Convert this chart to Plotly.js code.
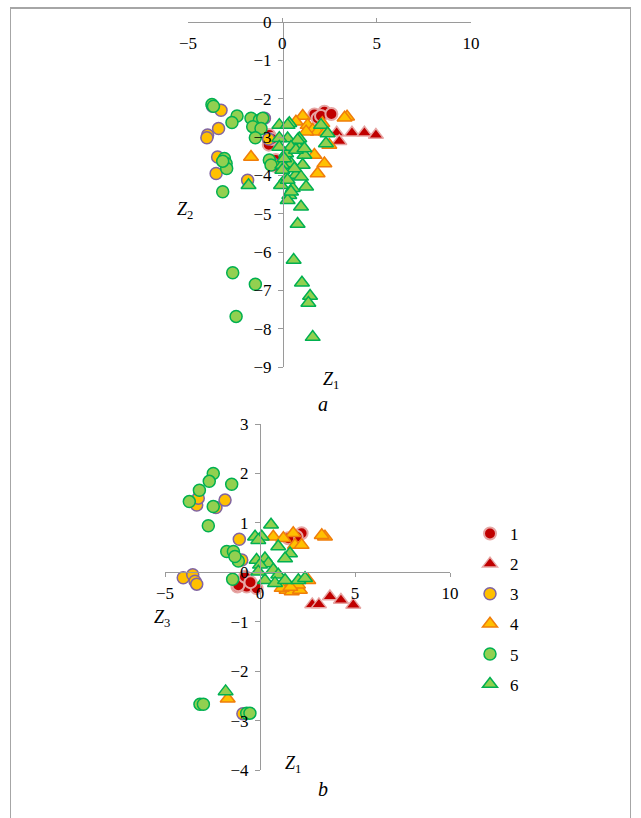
<!DOCTYPE html>
<html>
<head>
<meta charset="utf-8">
<script src="https://cdn.plot.ly/plotly-3.0.1.min.js"></script>
<style>
  html, body { margin: 0; padding: 0; background: #fff; }
  #wrap { position: relative; width: 641px; height: 818px; overflow: hidden; }
  #chart { width: 641px; height: 818px; }
  #frame { position: absolute; left: 10px; top: 7px; width: 619px; height: 830px;
           border-top: 2px solid #A6A6A6; border-left: 1px solid #A6A6A6; border-right: 1px solid #A6A6A6;
           pointer-events: none; }
</style>
</head>
<body>
<div id="wrap"><div id="chart"></div><div id="frame"></div></div>
<script>
// ---------- Panel a: Z1 vs Z2 ----------
const a1_z1 = [1.7, 2.23, 1.87, 2.05, 2.6, -0.69, -0.72, -0.55, -0.4, -0.35];
const a1_z2 = [-2.41, -2.34, -2.51, -2.45, -2.4, -2.95, -3.2, -3.05, -3.75, -3.6];

const a2_z1 = [2.88, 3.02, 3.69, 4.35, 4.96];
const a2_z2 = [-2.89, -3.11, -2.89, -2.89, -2.95];

const a3_z1 = [-3.25, -3.7, -3.38, -3.96, -4.0, -0.95, -0.73, -3.43, -3.51, -1.84, -0.5];
const a3_z2 = [-2.3, -2.2, -2.78, -2.95, -3.02, -2.51, -3.05, -3.52, -3.95, -4.13, -3.7];

const a4_z1 = [3.43, 3.3, 1.08, 0.72, 1.34, 1.61, 1.87, 2.31, 2.49, 1.7, 2.23, 1.87, 1.26, 2.12, -1.66];
const a4_z2 = [-2.47, -2.5, -2.45, -2.6, -2.69, -2.82, -2.86, -2.86, -3.21, -3.47, -3.69, -3.95, -2.86, -2.64, -3.52];

const a5_z1 = [-3.73, -3.65, -2.4, -2.67, -1.66, -1.22, -1.04, -1.57, -1.13, -1.43, -3.07, -2.98, -2.95, -3.16, -0.69, -0.6, -3.16, -2.63, -1.43, -2.45];
const a5_z2 = [-2.15, -2.2, -2.45, -2.62, -2.51, -2.56, -2.51, -2.73, -2.78, -3.02, -3.56, -3.69, -3.82, -3.63, -3.6, -3.73, -4.43, -6.54, -6.84, -7.68];

const a6_z1 = [-0.16, 0.37, 0.9, 2.05, 2.4, 2.31, 0.28, -0.16, 0.9, 0.2, 1.17, 0.46, 1.08, 0.0, 0.72, 0.2, 1.26, 0.55, 0.37, -0.07,
               -1.79, 0.28, 0.99, 0.81, 0.6, 1.04, 1.47, 1.38, 1.61, 0.28, 0.81, 0.46, -0.16, 0.72, 1.17, 0.1, 0.64, 0.0, 0.99, 0.28, 0.46];
const a6_z2 = [-2.69, -2.64, -3.04, -2.69, -2.91, -3.17, -3.04, -3.03, -3.3, -3.43, -3.47, -3.69, -3.73, -3.73, -3.99, -4.08, -4.3, -4.34, -4.52, -4.26,
               -4.26, -4.65, -4.82, -5.27, -6.21, -6.8, -7.15, -7.33, -8.22, -2.69, -3.08, -3.26, -3.26, -3.34, -3.3, -3.56, -3.82, -3.86, -4.04, -4.12, -4.43];

// ---------- Panel b: Z1 vs Z3 ----------
const b1_z1 = [-0.79, -0.7, -1.19, -0.18, -1.14, -0.79, 2.19, 1.93, 1.49, -0.5];
const b1_z3 = [-0.12, -0.29, -0.29, -0.32, -0.26, -0.09, 0.79, 0.72, 0.69, -0.2];

const b2_z1 = [2.75, 3.1, 3.68, 4.26, 4.91];
const b2_z3 = [-0.65, -0.65, -0.49, -0.56, -0.66];

const b3_z1 = [-3.33, -3.25, -2.32, -1.84, -1.09, -0.96, -4.04, -3.54, -3.42, -3.33, -0.9];
const b3_z3 = [1.36, 1.5, 1.31, 1.46, 0.67, 0.25, -0.11, -0.05, -0.18, -0.24, -2.86];

const b4_z1 = [3.42, 3.25, 1.75, 0.7, 1.23, 1.84, 2.19, 1.4, 1.67, 2.1, 2.54, 1.14, -1.7, 2.0, 1.6];
const b4_z3 = [0.72, 0.75, 0.79, 0.72, 0.69, 0.55, 0.55, -0.36, -0.39, -0.36, -0.16, -0.32, -2.56, -0.25, -0.3];

const b5_z1 = [-2.46, -2.67, -3.19, -3.72, -1.49, -2.46, -2.72, -1.75, -1.4, -1.14, -1.44, -1.32, -3.16, -2.98, -0.7, -0.53];
const b5_z3 = [2.0, 1.84, 1.66, 1.43, 1.78, 1.33, 0.94, 0.42, 0.42, 0.23, -0.14, 0.32, -2.67, -2.67, -2.85, -2.85];

const b6_z1 = [0.58, -0.26, 0.09, -0.09, 0.96, 1.58, 1.32, -0.18, 0.26, 0.44, 0.0, 0.7, 0.96, 0.26, 0.79, 1.32, 2.02, 2.37, -0.09, -1.81];
const b6_z3 = [0.96, 0.72, 0.72, 0.65, 0.52, 0.38, 0.28, 0.25, 0.28, 0.18, 0.15, 0.05, -0.05, -0.16, -0.22, -0.16, -0.16, -0.12, 0.01, -2.41];

const seriesNames = ['1', '2', '3', '4', '5', '6'];

// ---------- styles ----------
const styles = [
  {symbol: 'circle',      size: 12, color: '#C00000', line: {color: '#E6A6A4', width: 2}},
  {symbol: 'triangle-up', size: 13, color: '#C00000', line: {color: '#E6A6A4', width: 1.5}},
  {symbol: 'circle',      size: 12, color: '#FFC000', line: {color: '#8064A2', width: 1.5}},
  {symbol: 'triangle-up', size: 13, color: '#FFC000', line: {color: '#F07D0A', width: 1.5}},
  {symbol: 'circle',      size: 12, color: '#92D050', line: {color: '#00B050', width: 1.5}},
  {symbol: 'triangle-up', size: 13, color: '#92D050', line: {color: '#00B050', width: 1.5}}
];

const panelA = [[a1_z1, a1_z2], [a2_z1, a2_z2], [a3_z1, a3_z2], [a4_z1, a4_z2], [a5_z1, a5_z2], [a6_z1, a6_z2]];
const panelB = [[b1_z1, b1_z3], [b2_z1, b2_z3], [b3_z1, b3_z3], [b4_z1, b4_z3], [b5_z1, b5_z3], [b6_z1, b6_z3]];

const traces = [];
panelA.forEach((d, i) => {
  traces.push({type: 'scatter', mode: 'markers', x: d[0], y: d[1], xaxis: 'x', yaxis: 'y',
    name: seriesNames[i], legendgroup: 'g' + i, showlegend: false, marker: styles[i], cliponaxis: false});
});
panelB.forEach((d, i) => {
  traces.push({type: 'scatter', mode: 'markers', x: d[0], y: d[1], xaxis: 'x2', yaxis: 'y2',
    name: seriesNames[i], legendgroup: 'g' + i, showlegend: true, marker: styles[i], cliponaxis: false});
});

const W = 641, H = 818;
const px = v => v / W;
const py = v => 1 - v / H;

const SERIF = 'Liberation Serif';
const axCol = '#9A9A9A';
function axis(extra) {
  return Object.assign({showgrid: false, zeroline: false, showline: true, linecolor: axCol, linewidth: 1,
    tickcolor: axCol, tickwidth: 1, tickfont: {family: SERIF, size: 17, color: '#000'}}, extra);
}

const layout = {
  width: W, height: H,
  margin: {l: 0, r: 0, t: 0, b: 0},
  paper_bgcolor: '#fff', plot_bgcolor: 'rgba(0,0,0,0)',
  font: {family: SERIF, color: '#000'},
  xaxis: axis({domain: [px(188), px(471)], range: [-5, 10], anchor: 'free', position: py(22),
    side: 'bottom', ticks: 'inside', ticklen: 4, dtick: 5, tick0: 0, ticklabelstandoff: 6}),
  yaxis: axis({domain: [py(367), py(22)], range: [-9, 0], anchor: 'free', position: px(283),
    side: 'left', ticks: 'outside', ticklen: 5, dtick: 1, tick0: 0, ticklabelstandoff: 3}),
  xaxis2: axis({domain: [px(165), px(450)], range: [-5, 10], anchor: 'free', position: py(572),
    side: 'bottom', ticks: 'outside', ticklen: 4, dtick: 5, tick0: 0, ticklabelstandoff: 2}),
  yaxis2: axis({domain: [py(770), py(424)], range: [-4, 3], anchor: 'free', position: px(260),
    side: 'left', ticks: 'outside', ticklen: 5, dtick: 1, tick0: 0, ticklabelstandoff: 3}),
  showlegend: true,
  legend: {x: px(470), y: py(516), xanchor: 'left', yanchor: 'top', traceorder: 'grouped', tracegroupgap: 5,
    font: {family: SERIF, size: 17, color: '#000'}, bgcolor: 'rgba(0,0,0,0)', itemwidth: 30},
  annotations: [
    {text: '<i>Z</i><sub>2</sub>', x: px(175), y: py(197), xref: 'paper', yref: 'paper', showarrow: false,
      font: {family: SERIF, size: 18, color: '#000'}},
    {text: '<i>Z</i><sub>1</sub>', x: px(331), y: py(381), xref: 'paper', yref: 'paper', showarrow: false,
      font: {family: SERIF, size: 18, color: '#000'}},
    {text: '<i>a</i>', x: px(323), y: py(404), xref: 'paper', yref: 'paper', showarrow: false,
      font: {family: SERIF, size: 20, color: '#000'}},
    {text: '<i>Z</i><sub>3</sub>', x: px(152), y: py(632), xref: 'paper', yref: 'paper', showarrow: false,
      font: {family: SERIF, size: 18, color: '#000'}},
    {text: '<i>Z</i><sub>1</sub>', x: px(293), y: py(778), xref: 'paper', yref: 'paper', showarrow: false,
      font: {family: SERIF, size: 18, color: '#000'}},
    {text: '<i>b</i>', x: px(323), y: py(802), xref: 'paper', yref: 'paper', showarrow: false,
      font: {family: SERIF, size: 20, color: '#000'}}
  ]
};

Plotly.newPlot('chart', traces, layout, {displayModeBar: false, staticPlot: true});
</script>
</body>
</html>
